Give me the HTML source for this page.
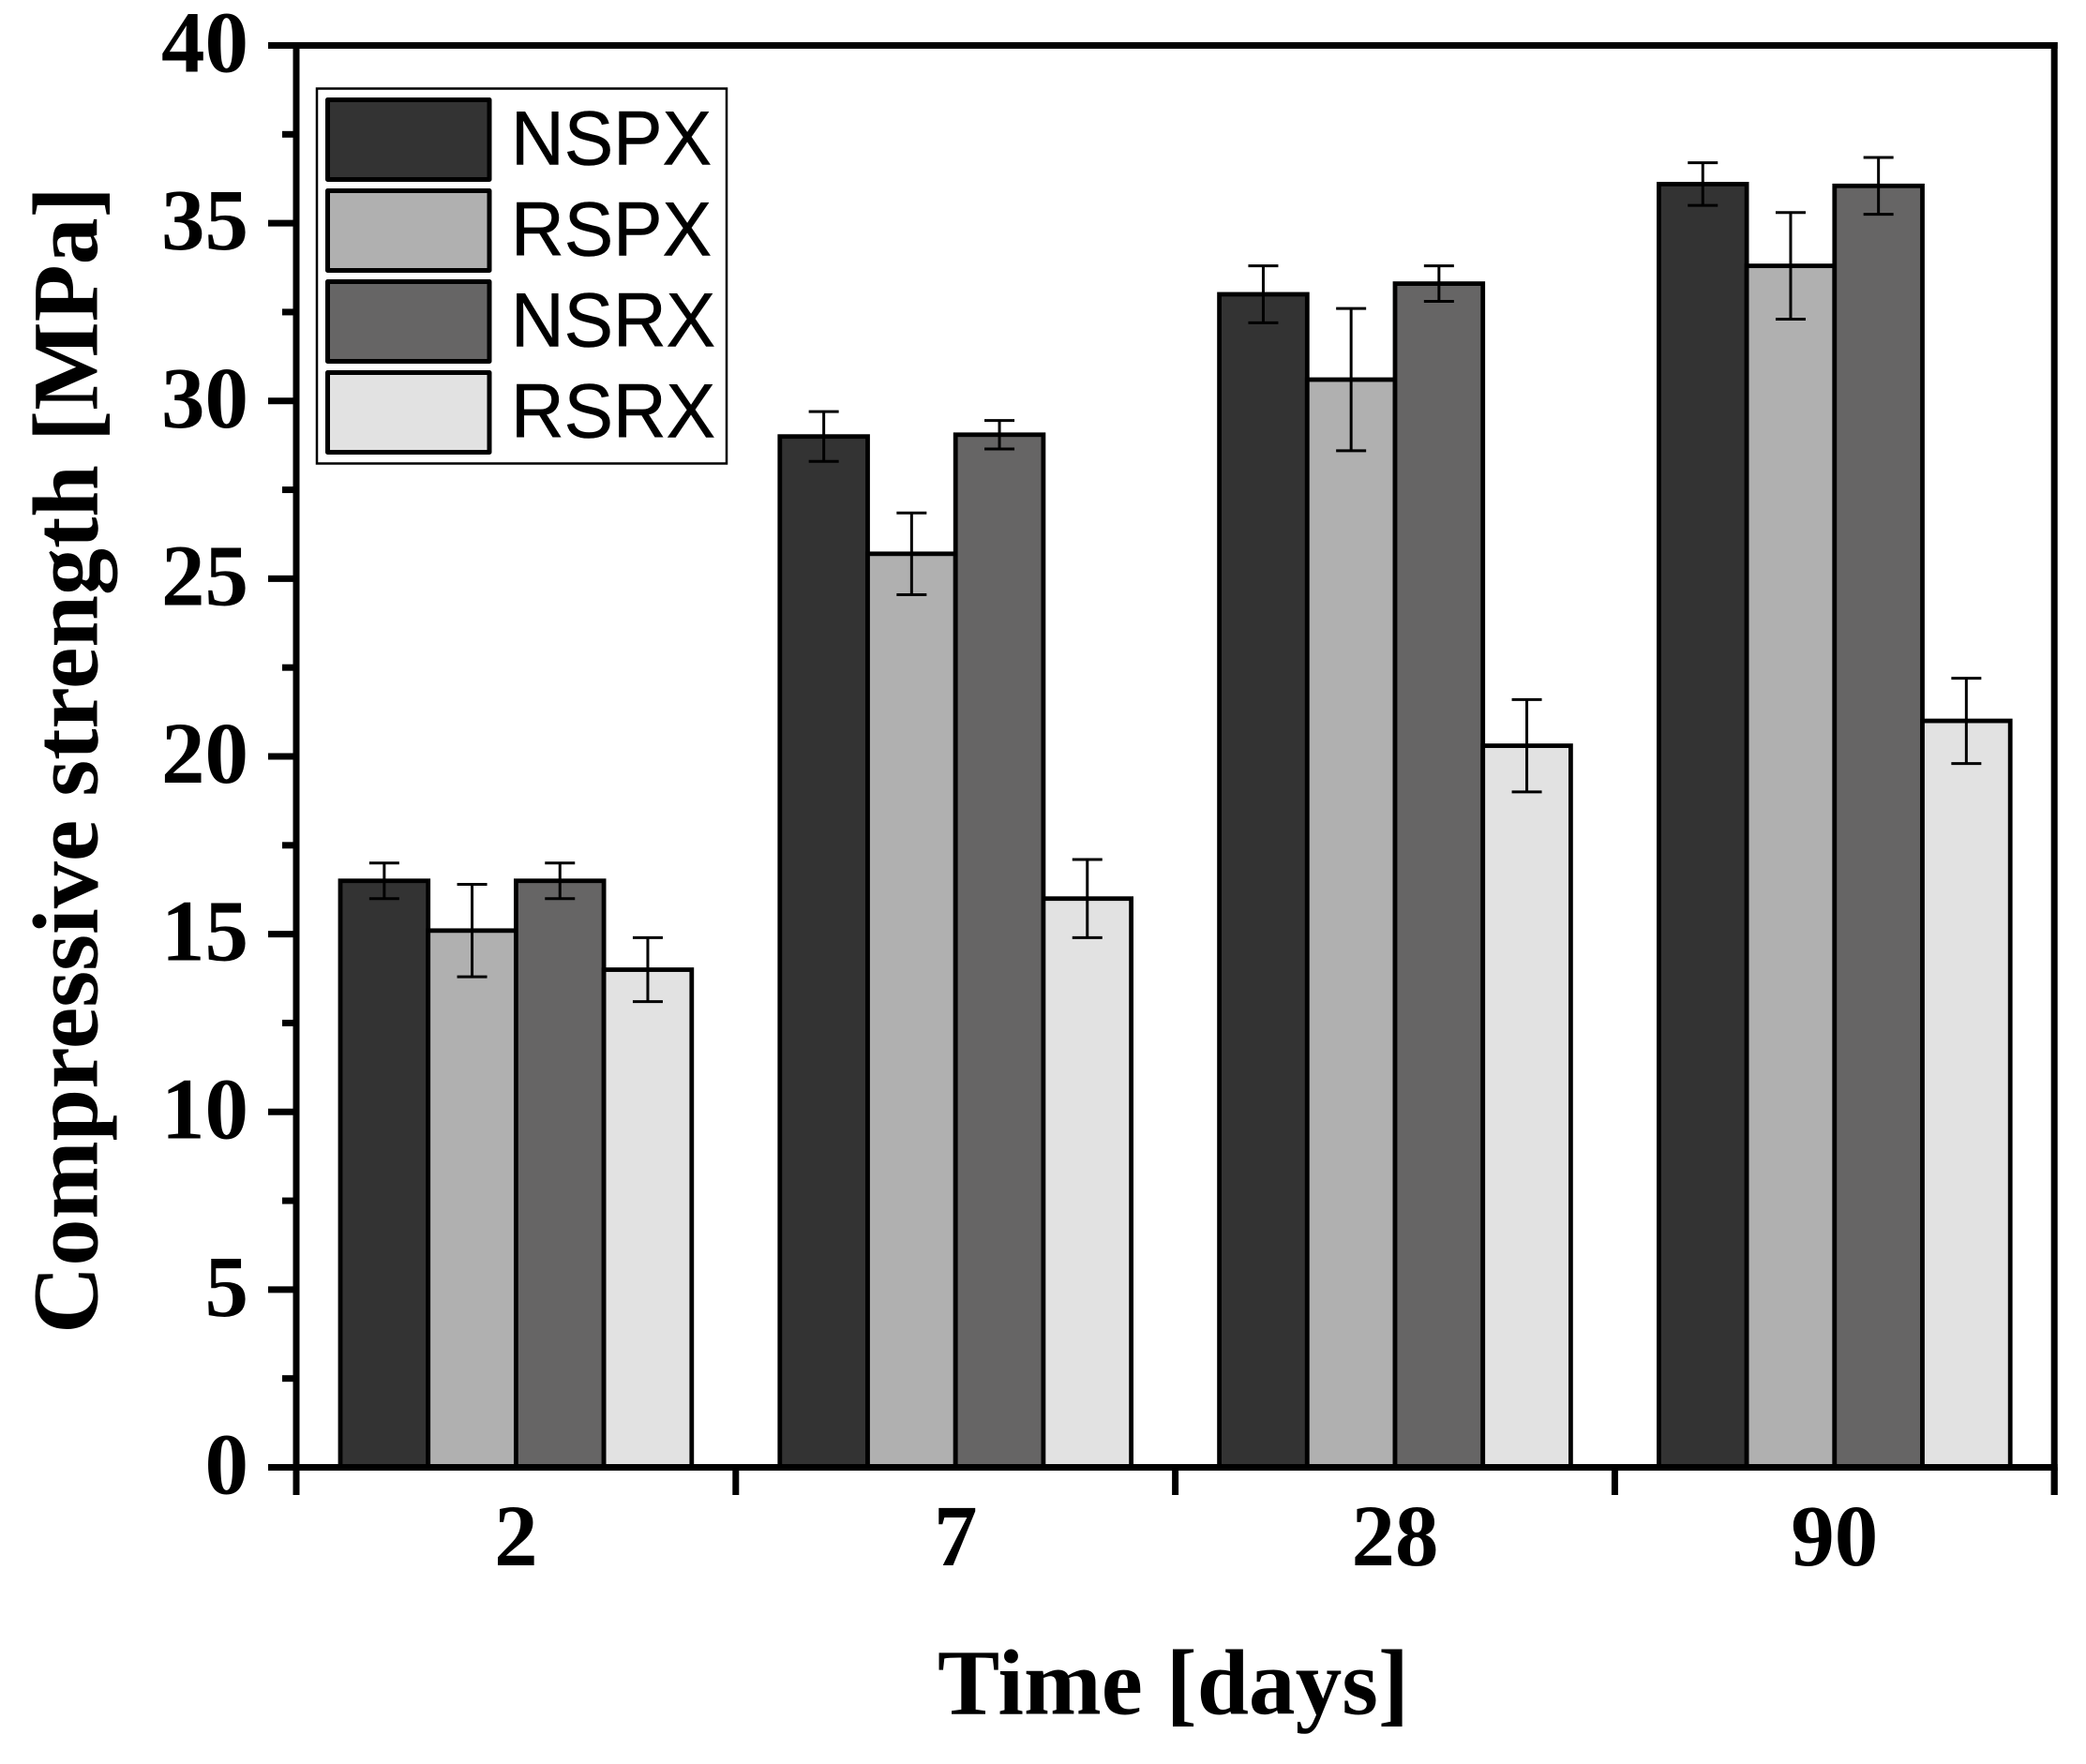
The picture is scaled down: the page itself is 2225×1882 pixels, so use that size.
<!DOCTYPE html>
<html lang="en">
<head>
<meta charset="utf-8">
<title>Compressive strength over time</title>
<style>
  html, body { margin: 0; padding: 0; background: #ffffff; }
  svg { display: block; }
  .serif { font-family: "Liberation Serif", "Times New Roman", serif; font-weight: bold; fill: #000; }
  .sans { font-family: "Liberation Sans", Arial, sans-serif; fill: #000; stroke: #000; stroke-width: 0.6; }
</style>
</head>
<body>
<svg id="chart" xmlns="http://www.w3.org/2000/svg" width="2225" height="1882" viewBox="0 0 2225 1882">
  <rect x="0" y="0" width="2225" height="1882" fill="#ffffff"/>
  <g id="bars"></g>
  <g id="errors"></g>
  <g id="axes"></g>
  <g>
    <rect x="338" y="94.5" width="437" height="400" fill="#ffffff" stroke="#000" stroke-width="2.5"/>
    <g>
      <rect x="349.5" y="106.5" width="172.5" height="85" fill="#333333" stroke="#000" stroke-width="5" stroke-linejoin="round"/>
      <text class="sans" x="545" y="175.7" font-size="82" textLength="214" lengthAdjust="spacingAndGlyphs">NSPX</text>
    </g>
    <g>
      <rect x="349.5" y="203.5" width="172.5" height="85" fill="#b0b0b0" stroke="#000" stroke-width="5" stroke-linejoin="round"/>
      <text class="sans" x="545" y="272.7" font-size="82" textLength="214" lengthAdjust="spacingAndGlyphs">RSPX</text>
    </g>
    <g>
      <rect x="349.5" y="300.5" width="172.5" height="85" fill="#666565" stroke="#000" stroke-width="5" stroke-linejoin="round"/>
      <text class="sans" x="545" y="369.4" font-size="82" textLength="218" lengthAdjust="spacingAndGlyphs">NSRX</text>
    </g>
    <g>
      <rect x="349.5" y="397.5" width="172.5" height="85" fill="#e2e2e2" stroke="#000" stroke-width="5" stroke-linejoin="round"/>
      <text class="sans" x="545" y="466.7" font-size="82" textLength="218" lengthAdjust="spacingAndGlyphs">RSRX</text>
    </g>
  </g>
  <text class="serif" x="1000" y="1828.5" font-size="99.3">Time [days]</text>
  <text class="serif" transform="translate(103.5 199) rotate(-90)" text-anchor="end" font-size="100">Compressive strength [MPa]</text>
</svg>
<script>
// Chart data
const categories = ['2', '7', '28', '90'];
const seriesNames = ['NSPX', 'RSPX', 'NSRX', 'RSRX'];
const nspxValues = [16.5, 29.0, 33.0, 36.1];
const rspxValues = [15.1, 25.7, 30.6, 33.8];
const nsrxValues = [16.5, 29.05, 33.3, 36.05];
const rsrxValues = [14.0, 16.0, 20.3, 21.0];
const nspxErrors = [0.5, 0.7, 0.8, 0.6];
const rspxErrors = [1.3, 1.15, 2.0, 1.5];
const nsrxErrors = [0.5, 0.4, 0.5, 0.8];
const rsrxErrors = [0.9, 1.1, 1.3, 1.2];
const yMajorTicks = [0, 5, 10, 15, 20, 25, 30, 35, 40];
const yMinorTicks = [2.5, 7.5, 12.5, 17.5, 22.5, 27.5, 32.5, 37.5];

const seriesValues = [nspxValues, rspxValues, nsrxValues, rsrxValues];
const seriesErrors = [nspxErrors, rspxErrors, nsrxErrors, rsrxErrors];
const seriesFills = ['#333333', '#b0b0b0', '#666565', '#e2e2e2'];

// Axis functions
const NS = 'http://www.w3.org/2000/svg';
const plotLeft = 316, plotRight = 2191.2, plotTop = 48.5, plotBottom = 1565.5;
const yMax = 40;
const barWidth = 93.7;
function yScale(v) { return plotBottom - (v / yMax) * (plotBottom - plotTop); }
function bandWidth() { return (plotRight - plotLeft) / categories.length; }
function bandEdge(i) { return plotLeft + bandWidth() * i; }
function bandCenter(i) { return bandEdge(i) + bandWidth() / 2; }
function barLeft(c, s) { return bandCenter(c) + (s - seriesValues.length / 2) * barWidth; }

function make(tag, attrs, parent) {
  const el = document.createElementNS(NS, tag);
  for (const k in attrs) el.setAttribute(k, attrs[k]);
  parent.appendChild(el);
  return el;
}

const barsG = document.getElementById('bars');
const errorsG = document.getElementById('errors');
const axesG = document.getElementById('axes');

// Bars
categories.forEach(function (cat, c) {
  seriesNames.forEach(function (name, s) {
    const top = yScale(seriesValues[s][c]);
    const bar = make('rect', {
      x: barLeft(c, s), y: top, width: barWidth, height: plotBottom - top,
      fill: seriesFills[s], stroke: '#000', 'stroke-width': 4.8
    }, barsG);
    
    
  });
});

// Error bars
categories.forEach(function (cat, c) {
  seriesNames.forEach(function (name, s) {
    const cx = barLeft(c, s) + barWidth / 2;
    const v = seriesValues[s][c], e = seriesErrors[s][c];
    const hi = yScale(v + e), lo = yScale(v - e);
    const capHalf = 16;
    const path = make('path', {
      d: 'M' + cx + ' ' + hi + 'V' + lo +
         'M' + (cx - capHalf) + ' ' + hi + 'H' + (cx + capHalf) +
         'M' + (cx - capHalf) + ' ' + lo + 'H' + (cx + capHalf),
      fill: 'none', stroke: '#000', 'stroke-width': 3
    }, errorsG);
    
    
  });
});

// Axis frame
const axisWidth = 7, majorLeft = 286, minorLeft = 301, xTickBottom = 1595;
const frame = [
  ['top-axis-line', majorLeft, plotTop, plotRight + axisWidth / 2, plotTop],
  ['bottom-axis-line', plotLeft, plotBottom, plotRight + axisWidth / 2, plotBottom],
  ['left-axis-line', plotLeft, plotTop, plotLeft, xTickBottom],
  ['right-axis-line', plotRight, plotTop - axisWidth / 2, plotRight, xTickBottom]
];
frame.forEach(function (f) {
  const line = make('line', { x1: f[1], y1: f[2], x2: f[3], y2: f[4], stroke: '#000', 'stroke-width': axisWidth }, axesG);
  
  
});

// Y ticks
yMajorTicks.forEach(function (t) {
  const y = yScale(t);
  const tick = make('line', { x1: majorLeft, y1: y, x2: plotLeft, y2: y, stroke: '#000', 'stroke-width': axisWidth }, axesG);
  
  
  const label = make('text', { x: 265, y: y + 28, 'text-anchor': 'end', 'font-size': 93, class: 'serif' }, axesG);
  label.textContent = String(t);
  
  
});
yMinorTicks.forEach(function (t) {
  const y = yScale(t);
  const tick = make('line', { x1: minorLeft, y1: y, x2: plotLeft, y2: y, stroke: '#000', 'stroke-width': axisWidth }, axesG);
  
  
});

// X ticks and labels
for (let i = 0; i <= categories.length; i++) {
  const x = bandEdge(i);
  const tick = make('line', { x1: x, y1: plotBottom, x2: x, y2: xTickBottom, stroke: '#000', 'stroke-width': axisWidth }, axesG);
  
  
}
categories.forEach(function (cat, c) {
  const label = make('text', { x: bandCenter(c), y: 1670, 'text-anchor': 'middle', 'font-size': 93, class: 'serif' }, axesG);
  label.textContent = cat;
  
  
});
</script>
</body>
</html>
